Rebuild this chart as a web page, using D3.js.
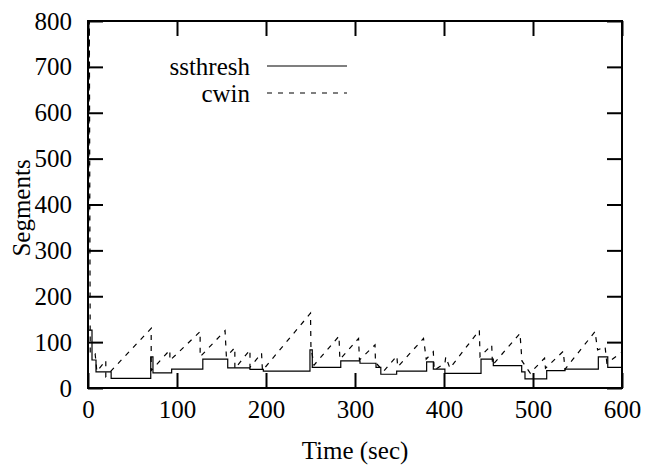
<!DOCTYPE html>
<html>
<head>
<meta charset="utf-8">
<script src="https://cdn.jsdelivr.net/npm/d3@7"></script>
<style>
  body { margin: 0; background: #fff; }
  svg text { font-family: "Liberation Serif", "Times New Roman", serif; fill: #000; }
</style>
</head>
<body>
<div id="chart"></div>
<script>
// tick values
var xTicks = [0, 100, 200, 300, 400, 500, 600];
var yTicks = [0, 100, 200, 300, 400, 500, 600, 700, 800];

// ssthresh steps [time, segments]
var ssthresh = [
  [0,126],[4.5,126],[4.5,61],[9,61],[9,35],[26,35],[26,21],[70.5,21],[70.5,68],[73,68],[73,33],
  [94,33],[94,41],[129,41],[129,63],[157,63],[157,44],[182,44],[182,40.5],[197,40.5],[197,37],
  [249.4,37],[249.4,83],[252,83],[252,45],[284,45],[284,59],[305.6,59],[305.6,54],[323.6,54],
  [323.6,45],[329,45],[329,30],[346.8,30],[346.8,37],[380.5,37],[380.5,57],[388,57],[388,41],
  [401,41],[401,32],[441.6,32],[441.6,63],[455.4,63],[455.4,48.6],[487.3,48.6],[487.3,35],
  [491,35],[491,20],[515.4,20],[515.4,38],[536,38],[536,41],[573.4,41],[573.4,68],[584,68],
  [584,45],[600,45]
];

// cwin sawtooth [time, segments]
var cwin = [
  [0,1],[1.5,800],[2.5,75],[8,75],[10,36],[20,60],[20,25],[71,130],[71,38],[92,83],[92,60],
  [126,123],[126,68],[154,125],[155.5,68],[165,88],[165,42],[182,83],[182,45],[195,76],[196,38],
  [250,163],[250.5,88],[254,50],[282,113],[283,62],[304,108],[305,61],[322.5,94],[323,56],
  [332,36],[347,70],[348,46],[377,108],[380,63],[388,79],[389,39],[401,54],[402,68],[406.7,43],
  [439.7,126],[440.5,68],[453.6,94],[454.5,50],[485.4,119],[487.6,59],[497,32],[500,39],
  [513,65],[514,43],[534,80],[536,41],[569.7,123],[572.6,83],[581,90],[583,54],[600,78]
];

var W = 645, H = 468;
var plotL = 88, plotR = 622, plotT = 21, plotB = 388;

var svg = d3.select("#chart").append("svg")
    .attr("width", W)
    .attr("height", H);

var x = d3.scaleLinear().domain([0, 600]).range([plotL, plotR]);
var y = d3.scaleLinear().domain([0, 800]).range([plotB, plotT]);

var fontSize = 25;

// bottom axis with labels, ticks pointing in
var gx = svg.append("g")
    .attr("transform", "translate(0," + plotB + ")")
    .call(d3.axisBottom(x).tickValues(xTicks).tickSize(-15).tickPadding(12).tickFormat(d3.format("d")));
// top axis, ticks only
var gxt = svg.append("g")
    .attr("transform", "translate(0," + plotT + ")")
    .call(d3.axisTop(x).tickValues(xTicks).tickSize(-15).tickFormat(""));
// left axis with labels
var gy = svg.append("g")
    .attr("transform", "translate(" + plotL + ",0)")
    .call(d3.axisLeft(y).tickValues(yTicks).tickSize(-15).tickPadding(16).tickFormat(d3.format("d")));
// right axis, ticks only
var gyr = svg.append("g")
    .attr("transform", "translate(" + plotR + ",0)")
    .call(d3.axisRight(y).tickValues(yTicks).tickSize(-15).tickFormat(""));

[gx, gxt, gy, gyr].forEach(function (g) {
  g.select(".domain").remove();
  g.selectAll(".tick line").attr("stroke", "#000").attr("stroke-width", 2);
  g.selectAll(".tick text").attr("font-size", fontSize).style("font-family", "Liberation Serif");
});

// frame
svg.append("rect")
    .attr("x", plotL).attr("y", plotT)
    .attr("width", plotR - plotL).attr("height", plotB - plotT)
    .attr("fill", "none").attr("stroke", "#000").attr("stroke-width", 2);

var line = d3.line()
    .x(function (d) { return x(d[0]); })
    .y(function (d) { return y(d[1]); });

svg.append("path")
    .datum(ssthresh)
    .attr("fill", "none")
    .attr("stroke", "#000")
    .attr("stroke-width", 1.2)
    .attr("d", line);

svg.append("path")
    .datum(cwin)
    .attr("fill", "none")
    .attr("stroke", "#000")
    .attr("stroke-width", 1.2)
    .attr("stroke-dasharray", "5,6")
    .attr("d", line);

// legend
var legend = [
  { name: "ssthresh", dash: null, y: 66 },
  { name: "cwin", dash: "5,6", y: 93 }
];
legend.forEach(function (l) {
  svg.append("text")
      .attr("x", 250).attr("y", l.y)
      .attr("dy", "0.35em")
      .attr("text-anchor", "end")
      .attr("font-size", fontSize)
      .text(l.name);
  svg.append("line")
      .attr("x1", 267).attr("x2", 347)
      .attr("y1", l.y).attr("y2", l.y)
      .attr("stroke", "#000").attr("stroke-width", 1.2)
      .attr("stroke-dasharray", l.dash);
});

// axis titles
svg.append("text")
    .attr("x", (plotL + plotR) / 2).attr("y", 459)
    .attr("text-anchor", "middle")
    .attr("font-size", fontSize)
    .text("Time (sec)");

svg.append("text")
    .attr("transform", "translate(30,208) rotate(-90)")
    .attr("text-anchor", "middle")
    .attr("font-size", fontSize)
    .text("Segments");
</script>
</body>
</html>
